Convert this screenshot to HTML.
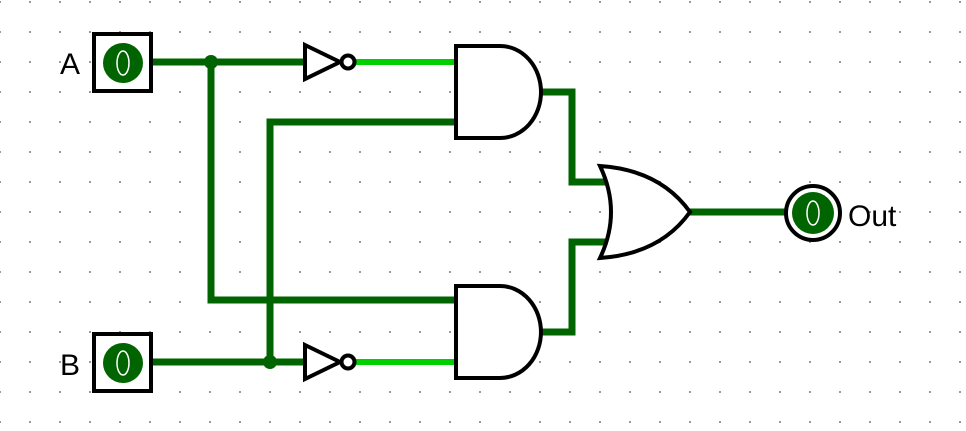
<!DOCTYPE html>
<html><head><style>body{margin:0;background:#fff}svg{display:block}</style></head><body>
<svg width="966" height="431" xmlns="http://www.w3.org/2000/svg">
<defs><pattern id="g" x="0" y="2" width="30" height="30" patternUnits="userSpaceOnUse"><rect x="0" y="0" width="2" height="2" fill="#999"/></pattern></defs>
<rect width="966" height="431" fill="url(#g)" transform="translate(-1,-1)"/>
<g stroke="#006400" stroke-width="7" fill="none" stroke-linecap="square">
<path d="M152 62H303"/><path d="M211 62V300H455"/>
<path d="M455 122H270V362"/><path d="M152 362H303"/>
<path d="M541 92H572V182H605"/><path d="M541 332H572V242H605"/>
<path d="M690 212H785"/>
</g>
<g stroke="#00d000" stroke-width="6"><path d="M356 62H455M356 362H455"/></g>
<circle cx="211" cy="62" r="7" fill="#006400"/><circle cx="270" cy="362" r="7" fill="#006400"/>
<g stroke="#000" stroke-width="4" fill="#fff">
<rect x="94" y="34" width="57" height="57"/><rect x="94" y="334" width="57" height="57"/>
<path d="M305 45L340 62L305 79Z"/><circle cx="348" cy="62" r="6.5"/>
<path d="M305 345L340 362L305 379Z"/><circle cx="348" cy="362" r="6.5"/>
<path d="M456 46H500A41 46 0 0 1 500 138H456Z"/>
<path d="M456 286H500A41 46 0 0 1 500 378H456Z"/>
<path d="M600 166Q660 170 690 212Q660 254 600 258Q622 212 600 166Z"/>
<circle cx="813" cy="213" r="27"/>
</g>
<g fill="#006400"><circle cx="123" cy="63" r="20"/><circle cx="123" cy="363" r="20"/><circle cx="813" cy="213" r="21"/></g>
<g fill="none" stroke="#fff" stroke-width="1.5"><ellipse cx="123" cy="63" rx="6" ry="12"/><ellipse cx="123" cy="363" rx="6" ry="12"/><ellipse cx="813" cy="213" rx="6" ry="12"/></g>
<g font-family="Liberation Sans, sans-serif" font-size="30" fill="#000">
<text x="60" y="74">A</text><text x="60" y="375">B</text><text x="848" y="226">Out</text>
</g>
</svg>
</body></html>
